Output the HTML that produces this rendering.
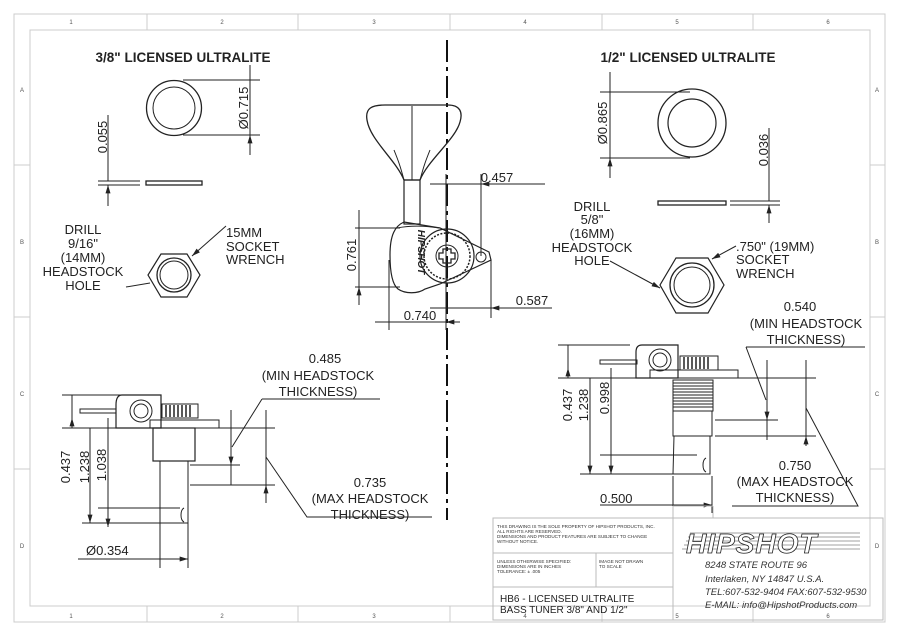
<!DOCTYPE html>
<html><head><meta charset="utf-8"><style>
html,body{margin:0;padding:0;background:#fff}
svg{display:block}
text{font-family:"Liberation Sans",sans-serif}
</style></head><body>
<svg width="900" height="636" viewBox="0 0 900 636" xmlns="http://www.w3.org/2000/svg">
<defs>
<marker id="a" viewBox="0 0 10 6" refX="10" refY="3" markerWidth="9" markerHeight="5" orient="auto-start-reverse" markerUnits="userSpaceOnUse"><path d="M0,0L10,3L0,6z" fill="#222"/></marker>
</defs>
<rect width="900" height="636" fill="#fff"/>
<g fill="none" stroke="#ccc" stroke-width="1">
<rect x="14" y="14" width="871" height="608"/>
<rect x="30" y="30" width="840" height="576"/>
<path d="M147,14V30M298,14V30M450,14V30M602,14V30M753,14V30M147,606V622M298,606V622M450,606V622M602,606V622M753,606V622M14,165H30M14,317H30M14,469H30M870,165H885M870,317H885M870,469H885"/>
</g>
<g font-size="6" style="fill:#555" text-anchor="middle">
<text x="71" y="24">1</text><text x="222" y="24">2</text><text x="374" y="24">3</text><text x="525" y="24">4</text><text x="677" y="24">5</text><text x="828" y="24">6</text>
<text x="71" y="618">1</text><text x="222" y="618">2</text><text x="374" y="618">3</text><text x="525" y="618">4</text><text x="677" y="618">5</text><text x="828" y="618">6</text>
<text x="22" y="92">A</text><text x="22" y="244">B</text><text x="22" y="396">C</text><text x="22" y="548">D</text>
<text x="877" y="92">A</text><text x="877" y="244">B</text><text x="877" y="396">C</text><text x="877" y="548">D</text>
</g>
<line x1="447" y1="40" x2="447" y2="520" stroke="#111" stroke-width="2" stroke-dasharray="22 5 4 5"/>

<g stroke="#222" stroke-width="1" fill="none">
<circle cx="174" cy="108" r="27.5" stroke-width="1.3"/><circle cx="174" cy="108" r="21"/>
<path d="M183,80H260M183,135H260"/>
<path d="M250,65V80M250,155V135" marker-end="url(#a)"/><path d="M250,80V135"/>
<path d="M108,115V181M108,206V185" marker-end="url(#a)"/>
<path d="M98,181H140M98,185H140"/>
<rect x="146" y="181" width="56" height="4" stroke-width="1.3"/>
<polygon points="161,254 187,254 200,275 187,297 161,297 148,275" stroke-width="1.2"/>
<circle cx="174" cy="275" r="17" stroke-width="1.3"/><circle cx="174" cy="275" r="14"/>
<path d="M126,287L150,283"/>
<path d="M226,226L192,256" marker-end="url(#a)"/>

<path d="M404,180 C396,160 370,140 367,120 C365,108 372,105 385,105 L448,105 C460,105 463,112 460,122 C455,140 428,160 420,180 Z" stroke-width="1.3"/>
<path d="M412,106V180M404,180C400,165 398,160 394,150M420,180C424,165 426,160 430,150"/>
<rect x="404" y="180" width="16" height="44" stroke-width="1.2"/>
<path d="M404,222 C395,226 390,235 390,255 C390,275 393,285 398,289 C405,294 418,294 425,289 L440,284 L491,260 L489,252 L440,228 Z" stroke-width="1.2"/>
<path d="M397,228C412,225 425,226 440,228"/>
<circle cx="447" cy="256" r="27" stroke-width="1.2"/>
<circle cx="447" cy="256" r="23" stroke-dasharray="2 1.5" stroke-width="1.5"/>
<circle cx="447" cy="256" r="11"/>
<path d="M443,250h8v4h4v6h-4v4h-8v-4h-4v-6h4z" stroke-width="1.3" transform="translate(0,-1)"/>
<circle cx="481" cy="257" r="5"/>
<path d="M446,174V330M481,174V256M491,260V318M389,260V330"/>
<path d="M446,184H545M481,184H545"/>
<path d="M430,184H446M497,184H481" marker-end="url(#a)"/>
<path d="M446,308H552"/><path d="M430,308H446M507,308H491" marker-end="url(#a)"/>
<path d="M389,322H446"/>
<path d="M375,322H389M460,322H446" marker-end="url(#a)"/>
<path d="M355,228H400M355,287H400"/>
<path d="M359,228V287"/><path d="M359,210V228M359,305V287" marker-end="url(#a)"/>

<circle cx="692" cy="123" r="34" stroke-width="1.3"/><circle cx="692" cy="123" r="24" stroke-width="1.2"/>
<path d="M600,92H690M600,158H690"/>
<path d="M610,92V158"/><path d="M610,72V92M610,178V158" marker-end="url(#a)"/>
<path d="M769,128V201M769,223V205" marker-end="url(#a)"/>
<path d="M730,201H780M730,205H780"/>
<rect x="658" y="201" width="68" height="4" stroke-width="1.3"/>
<polygon points="676,258 708,258 724,285 708,313 676,313 660,285" stroke-width="1.2"/>
<circle cx="692" cy="285" r="22" stroke-width="1.3"/><circle cx="692" cy="285" r="18"/>
<path d="M610,261L660,288" marker-end="url(#a)"/>
<path d="M736,246L712,259" marker-end="url(#a)"/>

<path d="M62,395H130M62,428H275"/>
<path d="M122,395H161V428H116V405Q116,395 122,395Z" stroke-width="1.2"/>
<circle cx="141" cy="411" r="11"/><circle cx="141" cy="411" r="7"/>
<rect x="80" y="409" width="36" height="4"/>
<rect x="162" y="404" width="36" height="14"/>
<path d="M166,405V417M170,405V417M174,405V417M178,405V417M182,405V417M186,405V417M190,405V417" stroke-width="1.5"/>
<rect x="150" y="420" width="69" height="8"/>
<rect x="153" y="428" width="42" height="33" stroke-width="1.2"/>
<path d="M160,461V523H188V461"/>
<path d="M184,508C180,510 180,520 184,522"/>
<path d="M82,523H160M98,508H180"/>
<path d="M72,395V428"/><path d="M72,395V405M72,428V418" marker-end="url(#a)"/>
<path d="M90,428V523"/><path d="M90,440V428M90,510V523" marker-end="url(#a)"/>
<path d="M108,418V527"/><path d="M108,430V418M108,515V527" marker-end="url(#a)"/>
<path d="M78,559H188M160,523V568M188,523V568"/>
<path d="M175,559H160M173,559H188" marker-end="url(#a)"/>
<path d="M190,465H240M190,485H275"/>
<path d="M231,410V485"/><path d="M231,420V428M231,455V465" marker-end="url(#a)"/>
<path d="M266,410V503"/><path d="M266,418V428M266,495V485" marker-end="url(#a)"/>
<path d="M262,399H380M262,399L232,447M266,457L307,517H432"/>

<path d="M558,345H630M558,378H816"/>
<path d="M642,345H678V378H636V352Q636,345 642,345Z" stroke-width="1.2"/>
<circle cx="660" cy="360" r="11"/><circle cx="660" cy="360" r="7"/>
<rect x="600" y="360" width="37" height="4"/>
<rect x="680" y="356" width="38" height="14"/>
<path d="M684,357V369M688,357V369M692,357V369M696,357V369M700,357V369M704,357V369M708,357V369" stroke-width="1.5"/>
<rect x="650" y="370" width="88" height="8"/>
<rect x="673" y="380" width="40" height="31"/>
<path d="M673,383H713M673,386H713M673,389H713M673,392H713M673,395H713M673,398H713M673,401H713M673,404H713M673,407H713" stroke-width="1.1"/>
<rect x="673" y="411" width="39" height="25"/>
<path d="M674,436L673,474H710L710,436"/>
<path d="M706,458C702,460 702,470 706,472"/>
<path d="M580,474H710M600,455H697"/>
<path d="M568,345V378"/><path d="M568,345V355M568,378V368" marker-end="url(#a)"/>
<path d="M590,378V474"/><path d="M590,390V378M590,462V474" marker-end="url(#a)"/>
<path d="M611,368V474"/><path d="M611,380V368M611,462V474" marker-end="url(#a)"/>
<path d="M673,476V513M712,476V513M600,505H712"/>
<path d="M690,505H673M695,505H712" marker-end="url(#a)"/>
<path d="M715,420H778M715,436H816"/>
<path d="M767,360V440"/><path d="M767,368V378M767,410V420" marker-end="url(#a)"/>
<path d="M806,360V445"/><path d="M806,368V378M806,446V436" marker-end="url(#a)"/>
<path d="M746,347H865M746,347L766,400M806,408L858,506H732"/>

<g stroke="#bbb">
<rect x="493" y="518" width="390" height="102"/>
<path d="M673,518V620M493,553H673M493,587H673M596,553V587M673,506V518M713,506V518M673,506H713"/>
</g>
</g>

<g style="fill:#222">
<g font-weight="bold" font-size="13.5" text-anchor="middle">
<text x="183" y="62">3/8" LICENSED ULTRALITE</text>
<text x="688" y="62">1/2" LICENSED ULTRALITE</text>
</g>
<g font-size="13" text-anchor="middle">
<text transform="translate(248,108) rotate(-90)">Ø0.715</text>
<text transform="translate(107,137) rotate(-90)">0.055</text>
<text x="83" y="234">DRILL</text><text x="83" y="248">9/16"</text><text x="83" y="262">(14MM)</text><text x="83" y="276">HEADSTOCK</text><text x="83" y="290">HOLE</text>
<text transform="translate(356,255) rotate(-90)">0.761</text>
<text x="497" y="182">0.457</text><text x="532" y="305">0.587</text><text x="420" y="320">0.740</text>
<text transform="translate(607,123) rotate(-90)">Ø0.865</text>
<text transform="translate(768,150) rotate(-90)">0.036</text>
<text x="592" y="211">DRILL</text><text x="592" y="224">5/8"</text><text x="592" y="238">(16MM)</text><text x="592" y="252">HEADSTOCK</text><text x="592" y="265">HOLE</text>
<text transform="translate(70,467) rotate(-90)">0.437</text>
<text transform="translate(89,467) rotate(-90)">1.238</text>
<text transform="translate(106,465) rotate(-90)">1.038</text>
<text x="325" y="363">0.485</text><text x="318" y="380">(MIN HEADSTOCK</text><text x="318" y="396">THICKNESS)</text>
<text x="370" y="487">0.735</text><text x="370" y="503">(MAX HEADSTOCK</text><text x="370" y="519">THICKNESS)</text>
<text transform="translate(572,405) rotate(-90)">0.437</text>
<text transform="translate(588,405) rotate(-90)">1.238</text>
<text transform="translate(609,398) rotate(-90)">0.998</text>
<text x="800" y="311">0.540</text><text x="806" y="328">(MIN HEADSTOCK</text><text x="806" y="344">THICKNESS)</text>
<text x="795" y="470">0.750</text><text x="795" y="486">(MAX HEADSTOCK</text><text x="795" y="502">THICKNESS)</text>
</g>
<g font-size="13">
<text x="226" y="237">15MM</text><text x="226" y="251">SOCKET</text><text x="226" y="264">WRENCH</text>
<text x="736" y="251">.750" (19MM)</text><text x="736" y="264">SOCKET</text><text x="736" y="278">WRENCH</text>
<text x="86" y="555">Ø0.354</text><text x="600" y="503">0.500</text>
</g>
<text transform="translate(418,252) rotate(90)" font-size="10" font-weight="bold" font-style="italic" text-anchor="middle">HIPSHOT</text>
<g font-size="4.6" style="fill:#333">
<text x="497" y="528">THIS DRAWING IS THE SOLE PROPERTY OF HIPSHOT PRODUCTS, INC.</text>
<text x="497" y="533">ALL RIGHTS ARE RESERVED.</text>
<text x="497" y="538">DIMENSIONS AND PRODUCT FEATURES ARE SUBJECT TO CHANGE</text>
<text x="497" y="543">WITHOUT NOTICE.</text>
<text x="497" y="563">UNLESS OTHERWISE SPECIFIED:</text>
<text x="497" y="568">DIMENSIONS ARE IN INCHES</text>
<text x="497" y="573">TOLERANCE: ± .005</text>
<text x="599" y="563">IMAGE NOT DRAWN</text>
<text x="599" y="568">TO SCALE</text>
</g>
<g font-size="10">
<text x="500" y="602">HB6 - LICENSED ULTRALITE</text>
<text x="500" y="613">BASS TUNER 3/8" AND 1/2"</text>
</g>
</g>
<g stroke="#444" stroke-width="0.6">
<path d="M690,533H860M688,537H860M686,541H860M684,545H860M682,549H860"/>
</g>
<text x="686" y="553" font-size="28" font-weight="bold" font-style="italic" style="fill:#fff;stroke:#222;stroke-width:0.8" letter-spacing="1">HIPSHOT</text>
<g font-size="9.5" font-style="italic" style="fill:#333">
<text x="705" y="568">8248 STATE ROUTE 96</text>
<text x="705" y="582">Interlaken, NY 14847 U.S.A.</text>
<text x="705" y="595">TEL:607-532-9404 FAX:607-532-9530</text>
<text x="705" y="608">E-MAIL: info@HipshotProducts.com</text>
</g>
</svg>
</body></html>
